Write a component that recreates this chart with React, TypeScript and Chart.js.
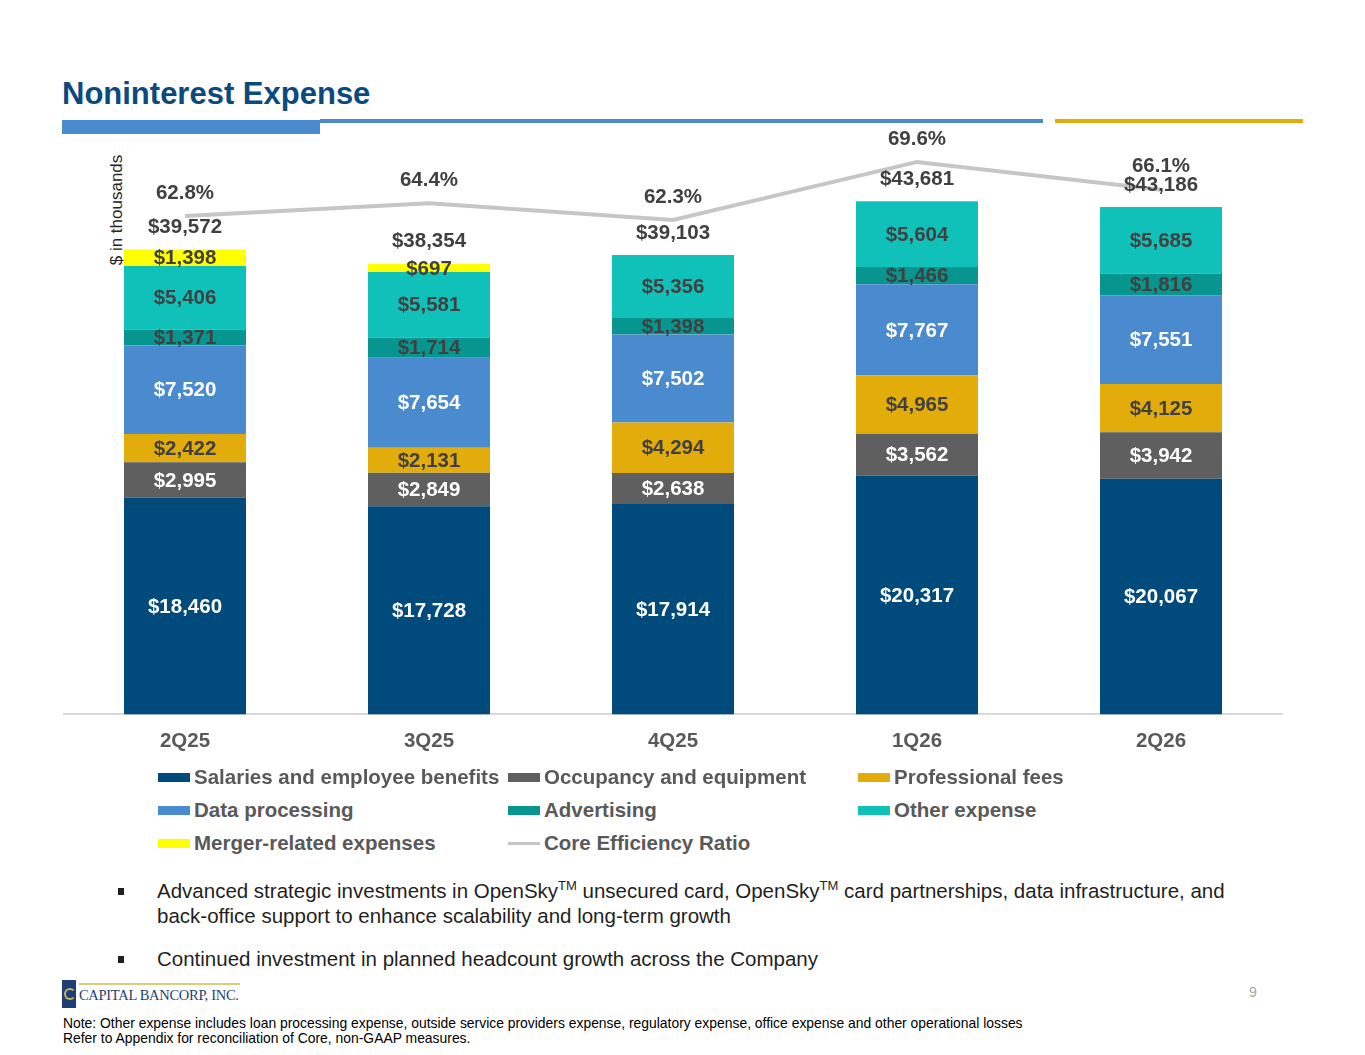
import React, { useEffect, useRef } from "react";
import { Chart, registerables } from "chart.js";

Chart.register(...registerables);

const FONT = "Arial, 'Liberation Sans', Helvetica, sans-serif";

const categories = ["2Q25", "3Q25", "4Q25", "1Q26", "2Q26"];

const salaries = [18460, 17728, 17914, 20317, 20067];
const occupancy = [2995, 2849, 2638, 3562, 3942];
const professionalFees = [2422, 2131, 4294, 4965, 4125];
const dataProcessing = [7520, 7654, 7502, 7767, 7551];
const advertising = [1371, 1714, 1398, 1466, 1816];
const otherExpense = [5406, 5581, 5356, 5604, 5685];
const mergerRelated = [1398, 697, 0, 0, 0];
const totals = [39572, 38354, 39103, 43681, 43186];
const coreEfficiency = [62.8, 64.4, 62.3, 69.6, 66.1];

const seriesNames = [
  "Salaries and employee benefits",
  "Occupancy and equipment",
  "Professional fees",
  "Data processing",
  "Advertising",
  "Other expense",
  "Merger-related expenses",
];
const lineName = "Core Efficiency Ratio";

const seriesValues = [salaries, occupancy, professionalFees, dataProcessing, advertising, otherExpense, mergerRelated];
const seriesColors = ["#004a7c", "#5f5f5f", "#e2ad0b", "#4a8acf", "#07958f", "#10c1b9", "#ffff00"];
const labelColors = ["#ffffff", "#ffffff", "#404040", "#ffffff", "#404040", "#404040", "#404040"];
const lineColor = "#c6c6c6";

const fmt = (v: number) => "$" + v.toLocaleString("en-US");

const labelPlugin = {
  id: "valueLabels",
  afterDatasetsDraw(chart: any) {
    const ctx = chart.ctx;
    ctx.save();
    ctx.textAlign = "center";
    ctx.textBaseline = "middle";
    ctx.font = `bold 20.5px ${FONT}`;
    seriesValues.forEach((vals, di) => {
      const meta = chart.getDatasetMeta(di);
      meta.data.forEach((el: any, i: number) => {
        const v = vals[i];
        if (!v) return;
        const p = el.getProps(["x", "y", "base"], true);
        ctx.fillStyle = labelColors[di];
        ctx.fillText(fmt(v), p.x, (p.y + p.base) / 2 + 1);
      });
    });
    const yScale = chart.scales.y;
    const xScale = chart.scales.x;
    ctx.fillStyle = "#404040";
    totals.forEach((t, i) => {
      ctx.fillText(fmt(t), xScale.getPixelForValue(i), yScale.getPixelForValue(t) - 22);
    });
    const lineMeta = chart.getDatasetMeta(seriesValues.length);
    lineMeta.data.forEach((pt: any, i: number) => {
      ctx.fillText(coreEfficiency[i].toFixed(1) + "%", pt.x, pt.y - 23);
    });
    ctx.restore();
  },
};

function ChartCanvas() {
  const ref = useRef<HTMLCanvasElement | null>(null);
  useEffect(() => {
    if (!ref.current) return;
    const chart = new Chart(ref.current, {
      data: {
        labels: categories,
        datasets: [
          ...seriesValues.map((vals, i) => ({
            type: "bar" as const,
            label: seriesNames[i],
            data: vals,
            backgroundColor: seriesColors[i],
            stack: "s",
            yAxisID: "y",
            order: 1,
            barPercentage: 0.5,
            categoryPercentage: 1,
          })),
          {
            type: "line" as const,
            label: lineName,
            data: coreEfficiency,
            borderColor: lineColor,
            borderWidth: 4,
            pointRadius: 0,
            tension: 0,
            yAxisID: "y1",
            order: 0,
          },
        ],
      } as any,
      options: {
        responsive: false,
        maintainAspectRatio: false,
        animation: false,
        layout: { padding: { top: 27, left: 0, right: 0, bottom: 0 } },
        plugins: { legend: { display: false }, tooltip: { enabled: false } },
        scales: {
          x: {
            stacked: true,
            grid: { display: false, drawTicks: false },
            border: { display: true, color: "#d9d9d9", width: 2 },
            ticks: { color: "#595959", font: { family: FONT, size: 20.5, weight: "bold" }, padding: 15 },
          },
          y: { stacked: true, display: false, min: 0, max: 50000 },
          y1: { display: false, min: 0, max: 74 },
        },
      } as any,
      plugins: [labelPlugin],
    });
    return () => chart.destroy();
  }, []);
  return <canvas ref={ref} width={1220} height={669} style={{ width: 1220, height: 669, display: "block" }} />;
}

const legendItems = [
  { name: seriesNames[0], color: seriesColors[0], line: false },
  { name: seriesNames[1], color: seriesColors[1], line: false },
  { name: seriesNames[2], color: seriesColors[2], line: false },
  { name: seriesNames[3], color: seriesColors[3], line: false },
  { name: seriesNames[4], color: seriesColors[4], line: false },
  { name: seriesNames[5], color: seriesColors[5], line: false },
  { name: seriesNames[6], color: seriesColors[6], line: false },
  { name: lineName, color: lineColor, line: true },
];
const legendColX = [158, 508, 858];
const legendRowY = [777, 810, 843];

export default function App() {
  return (
    <div style={{ position: "absolute", left: 0, top: 0, width: 1365, height: 1055, background: "#fff", fontFamily: FONT, overflow: "hidden" }}>
      <div style={{ position: "absolute", left: 62, top: 75, fontSize: 31, fontWeight: "bold", color: "#0a4a7f", lineHeight: "38px", whiteSpace: "nowrap" }}>
        Noninterest Expense
      </div>
      <div style={{ position: "absolute", left: 62, top: 120, width: 258, height: 14, background: "#4a8acf" }} />
      <div style={{ position: "absolute", left: 320, top: 119, width: 723, height: 4, background: "#4a8acf" }} />
      <div style={{ position: "absolute", left: 1055, top: 119, width: 248, height: 4, background: "#e2ad0b" }} />

      <div style={{ position: "absolute", left: 117, top: 210, width: 0, height: 0 }}>
        <div style={{ position: "absolute", left: -60, top: -10, width: 120, height: 20, lineHeight: "20px", textAlign: "center", fontSize: 17, color: "#262626", transform: "rotate(-90deg)", whiteSpace: "nowrap" }}>
          $ in thousands
        </div>
      </div>

      <div style={{ position: "absolute", left: 63, top: 100 }}>
        <ChartCanvas />
      </div>

      {legendItems.map((it, i) => {
        const x = legendColX[i % 3];
        const y = legendRowY[Math.floor(i / 3)];
        return (
          <div key={it.name} style={{ position: "absolute", left: x, top: y - 13, height: 26, display: "flex", alignItems: "center", whiteSpace: "nowrap" }}>
            <div style={{ width: 32, height: it.line ? 3 : 9, background: it.color, marginRight: 4 }} />
            <span style={{ fontSize: 20.5, fontWeight: "bold", color: "#595959", lineHeight: "26px" }}>{it.name}</span>
          </div>
        );
      })}

      <div style={{ position: "absolute", left: 118, top: 888, width: 6, height: 7, background: "#1f1f1f" }} />
      <div style={{ position: "absolute", left: 157, top: 878, width: 1120, fontSize: 20.5, lineHeight: "25px", color: "#1f1f1f" }}>
        Advanced strategic investments in OpenSky<sup style={{ fontSize: 13, lineHeight: 0 }}>TM</sup> unsecured card, OpenSky<sup style={{ fontSize: 13, lineHeight: 0 }}>TM</sup> card partnerships, data infrastructure, and back-office support to enhance scalability and long-term growth
      </div>
      <div style={{ position: "absolute", left: 118, top: 956, width: 6, height: 7, background: "#1f1f1f" }} />
      <div style={{ position: "absolute", left: 157, top: 946, fontSize: 20.5, lineHeight: "25px", color: "#1f1f1f", whiteSpace: "nowrap" }}>
        Continued investment in planned headcount growth across the Company
      </div>

      <div style={{ position: "absolute", left: 62, top: 980, width: 14, height: 28, background: "#1f3f73" }}>
        <div style={{ position: "absolute", left: 2, top: 8, width: 8, height: 8, borderRadius: 6, border: "2px solid #c9b45a", borderRightColor: "transparent" }} />
      </div>
      <div style={{ position: "absolute", left: 79, top: 983, width: 161, height: 2, background: "#d9cf7a" }} />
      <div style={{ position: "absolute", left: 79, top: 986, fontFamily: "'Liberation Serif', 'DejaVu Serif', serif", fontSize: 14.5, color: "#1f3f73", whiteSpace: "nowrap", lineHeight: "18px", letterSpacing: -0.3 }}>
        CAPITAL BANCORP, INC.
      </div>

      <div style={{ position: "absolute", left: 1249, top: 983, fontSize: 14, color: "#a6a6a6", lineHeight: "18px" }}>9</div>

      <div style={{ position: "absolute", left: 63, top: 1016, fontSize: 13.9, lineHeight: "15px", color: "#000", whiteSpace: "nowrap" }}>
        Note: Other expense includes loan processing expense, outside service providers expense, regulatory expense, office expense and other operational losses
        <br />
        Refer to Appendix for reconciliation of Core, non-GAAP measures.
      </div>
    </div>
  );
}
